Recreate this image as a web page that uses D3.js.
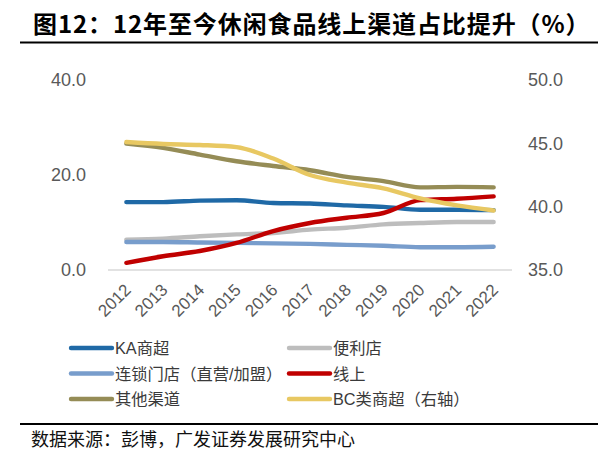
<!DOCTYPE html>
<html>
<head>
<meta charset="utf-8">
<script src="https://cdn.jsdelivr.net/npm/d3@7"></script>
<style>
  body { margin: 0; background: #fff; }
  svg { display: block; }
</style>
</head>
<body>
<div id="chart"></div>
<script>
// data
var years = ["2012","2013","2014","2015","2016","2017","2018","2019","2020","2021","2022"];
var kaStores   = [14.3, 14.3, 14.6, 14.7, 14.1, 14.0, 13.6, 13.3, 12.7, 12.7, 12.6];
var convenience = [6.4, 6.6, 7.1, 7.5, 7.8, 8.5, 8.9, 9.6, 9.9, 10.1, 10.1];
var chainStores = [5.9, 5.9, 5.8, 5.7, 5.6, 5.5, 5.3, 5.1, 4.8, 4.8, 4.9];
var online     = [1.5, 2.9, 4.0, 5.7, 8.2, 9.9, 11.0, 12.0, 14.7, 15.0, 15.5];
var others     = [26.6, 25.7, 24.3, 22.9, 21.9, 21.0, 19.6, 18.7, 17.4, 17.5, 17.4];
var bcStores   = [45.1, 44.95, 44.87, 44.7, 43.8, 42.5, 41.9, 41.45, 40.65, 40.1, 39.7]; // right axis
var leftTicks  = [0, 20, 40];
var rightTicks = [35, 40, 45, 50];

var series = [
  {name: "KA商超", values: kaStores, color: "#1f69a6", axis: "left"},
  {name: "便利店", values: convenience, color: "#bdbdbd", axis: "left"},
  {name: "连锁门店（直营/加盟）", values: chainStores, color: "#789dcc", axis: "left"},
  {name: "线上", values: online, color: "#c00000", axis: "left"},
  {name: "其他渠道", values: others, color: "#958c56", axis: "left"},
  {name: "BC类商超（右轴）", values: bcStores, color: "#e8c862", axis: "right"}
];

var svgWidth = 598, svgHeight = 461;
var plot = {left: 108, right: 512, top: 80, bottom: 270};

var svg = d3.select("#chart").append("svg")
  .attr("width", svgWidth)
  .attr("height", svgHeight);

// title
svg.append("text")
  .attr("x", 33).attr("y", 33)
  .attr("font-family", "'Noto Sans CJK SC', sans-serif")
  .attr("font-weight", "bold")
  .attr("font-size", 24)
  .attr("letter-spacing", 0.9)
  .attr("fill", "#000")
  .text("图12：12年至今休闲食品线上渠道占比提升（%）");

svg.append("line")
  .attr("x1", 20).attr("x2", 598).attr("y1", 42.5).attr("y2", 42.5)
  .attr("stroke", "#000").attr("stroke-width", 2);

// scales
var x = d3.scalePoint().domain(years)
  .range([plot.left, plot.right]).padding(0.5);
var yLeft = d3.scaleLinear().domain([0, 40]).range([plot.bottom, plot.top]);
var yRight = d3.scaleLinear().domain([35, 50]).range([plot.bottom, plot.top]);

// axes
var bottomAxis = d3.axisBottom(x).tickSize(0).tickPadding(0);
var gx = svg.append("g")
  .attr("transform", `translate(0, ${plot.bottom})`)
  .call(bottomAxis);
gx.select(".domain").attr("stroke", "#d9d9d9").attr("stroke-width", 1.3)
  .attr("d", `M${plot.left},0H${plot.right}`);
gx.selectAll("text")
  .attr("font-family", "'Liberation Sans', Arial, sans-serif")
  .attr("font-size", 17)
  .attr("fill", "#595959")
  .attr("text-anchor", "end")
  .attr("dy", null)
  .attr("transform", "translate(5, 21) rotate(-45)");

var leftAxis = d3.axisLeft(yLeft).tickValues(leftTicks)
  .tickFormat(d3.format(".1f")).tickSize(0).tickPadding(22);
var gl = svg.append("g")
  .attr("transform", `translate(${plot.left}, 0)`)
  .call(leftAxis);
gl.select(".domain").remove();
gl.selectAll("text")
  .attr("font-family", "'Liberation Sans', Arial, sans-serif")
  .attr("font-size", 18)
  .attr("fill", "#595959");

var rightAxis = d3.axisRight(yRight).tickValues(rightTicks)
  .tickFormat(d3.format(".1f")).tickSize(0).tickPadding(16);
var gr = svg.append("g")
  .attr("transform", `translate(${plot.right}, 0)`)
  .call(rightAxis);
gr.select(".domain").remove();
gr.selectAll("text")
  .attr("font-family", "'Liberation Sans', Arial, sans-serif")
  .attr("font-size", 18)
  .attr("fill", "#595959");

// lines
series.forEach(function(s) {
  var yScale = s.axis === "right" ? yRight : yLeft;
  var line = d3.line()
    .x((d, i) => x(years[i]))
    .y(d => yScale(d))
    .curve(d3.curveMonotoneX);
  svg.append("path")
    .datum(s.values)
    .attr("d", line)
    .attr("fill", "none")
    .attr("stroke", s.color)
    .attr("stroke-width", 4.4)
    .attr("stroke-linecap", "round")
    .attr("stroke-linejoin", "round");
});

// legend
var legend = svg.append("g");
series.forEach(function(s, i) {
  var col = i % 2, row = Math.floor(i / 2);
  var lx = col === 0 ? 71 : 289;
  var ly = 348 + row * 25.5;
  legend.append("line")
    .attr("x1", lx).attr("x2", lx + 41)
    .attr("y1", ly).attr("y2", ly)
    .attr("stroke", s.color).attr("stroke-width", 4.4)
    .attr("stroke-linecap", "round");
  legend.append("text")
    .attr("x", lx + 44).attr("y", ly + 6)
    .attr("font-family", "'Liberation Sans', 'Noto Sans CJK SC', sans-serif")
    .attr("font-size", 16.3)
    .attr("fill", "#3a3a3a")
    .text(s.name);
});

// source
svg.append("line")
  .attr("x1", 20).attr("x2", 598).attr("y1", 424).attr("y2", 424)
  .attr("stroke", "#000").attr("stroke-width", 2);
svg.append("text")
  .attr("x", 31).attr("y", 446)
  .attr("font-family", "'Noto Sans CJK SC', sans-serif")
  .attr("font-size", 18)
  .attr("fill", "#111")
  .text("数据来源：彭博，广发证券发展研究中心");
</script>
</body>
</html>
